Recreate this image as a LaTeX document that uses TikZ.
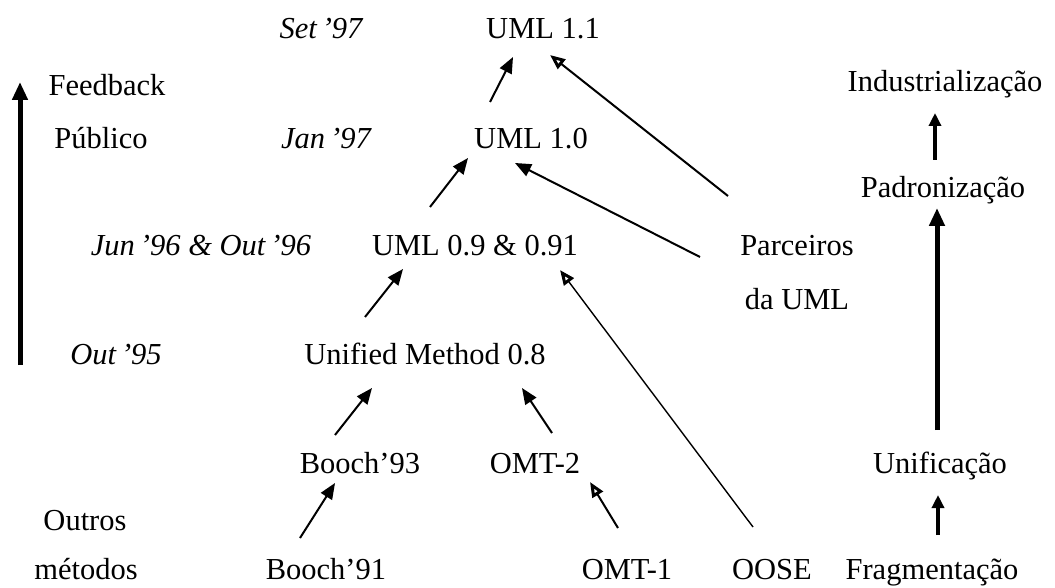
\documentclass[tikz,border=0pt]{standalone}
\usepackage{fontspec}
\setmainfont{Liberation Serif}
\usetikzlibrary{arrows.meta,calc}
\begin{document}
\begin{tikzpicture}[x=1pt,y=-1pt,
  lbl/.style={anchor=base,inner sep=0pt,font=\fontsize{30.5}{36}\selectfont},
  ilbl/.style={lbl,font=\fontsize{30.5}{36}\selectfont\itshape},
  arr/.style={line width=2pt,-{Triangle[length=16pt,width=13pt]}},
  oarr/.style={line width=2pt,-{Triangle[open,length=15pt,width=12pt,line width=3pt]}},
  thinarr/.style={line width=1.4pt,-{Triangle[open,length=15pt,width=12pt,line width=3pt]}},
  bigarr/.style={line width=5pt,-{Triangle[length=18pt,width=15pt]}},
  midarr/.style={line width=4.5pt,-{Triangle[length=13pt,width=12pt]}}]
\useasboundingbox (0,0) rectangle (1055,588);
% left column
\node[ilbl] (set97) at (321,39) {Set\,'97};
\node[ilbl] (jan97) at (326,149) {Jan\,'97};
\node[ilbl] (jun96) at (201,255) {Jun\,'96 \& Out\,'96};
\node[ilbl] (out95) at (116,364) {Out\,'95};
\node[lbl] (feed) at (107,96) {Feedback};
\node[lbl] (pub) at (101,149) {Público};
\node[lbl] (outros) at (85,530) {Outros};
\node[lbl] (metodos) at (86,579) {métodos};
% centre
\node[lbl] (u11) at (543,39) {UML 1.1};
\node[lbl] (u10) at (531,149) {UML 1.0};
\node[lbl] (u09) at (475,255) {UML 0.9 \& 0.91};
\node[lbl] (um) at (425,364) {Unified Method 0.8};
\node[lbl] (b93) at (360,473) {Booch'93};
\node[lbl] (omt2) at (535,473) {OMT-2};
\node[lbl] (b91) at (326,579) {Booch'91};
\node[lbl] (omt1) at (627,579) {OMT-1};
\node[lbl] (oose) at (772,579) {OOSE};
\node[lbl] (par) at (797,255) {Parceiros};
\node[lbl] (dauml) at (797,309) {da UML};
% right column
\node[lbl] (ind) at (945,92) {Industrialização};
\node[lbl] (padr) at (943,198) {Padronização};
\node[lbl] (unif) at (940,473) {Unificação};
\node[lbl] (frag) at (932,579) {Fragmentação};
% feedback arrow
\coordinate (fb1) at (20,365);
\coordinate (fb2) at (20,82);
\draw[bigarr] (fb1) -- (fb2);
% connectors
\draw[arr] ([shift={(-41,-47)}]u10.base) -- ([shift={(-30,18)}]u11.base);
\draw[oarr] ([shift={(-69,-59)}]par.base) -- ([shift={(7,16)}]u11.base);
\draw[arr] ([shift={(-45,-48)}]u09.base) -- ([shift={(-63,9)}]u10.base);
\draw[arr] ([shift={(-97,2)}]par.base) -- ([shift={(-16,14)}]u10.base);
\draw[arr] ([shift={(-60,-47)}]um.base) -- ([shift={(-72,14)}]u09.base);
\draw[thinarr] ([shift={(-19,-52)}]oose.base) -- ([shift={(85,15)}]u09.base);
\draw[arr] ([shift={(-25,-38)}]b93.base) -- ([shift={(-53,24)}]um.base);
\draw[arr] ([shift={(17,-40)}]omt2.base) -- ([shift={(97,24)}]um.base);
\draw[arr] ([shift={(-26,-41)}]b91.base) -- ([shift={(-25,10)}]b93.base);
\draw[oarr] ([shift={(-9,-51)}]omt1.base) -- ([shift={(55,9)}]omt2.base);
% right column arrows
\draw[midarr] ([shift={(-8,-38)}]padr.base) -- ([shift={(-10,21)}]ind.base);
\draw[bigarr] ([shift={(-3,-43)}]unif.base) -- ([shift={(-6,10)}]padr.base);
\draw[midarr] ([shift={(6,-44)}]frag.base) -- ([shift={(-2,22)}]unif.base);
\end{tikzpicture}
\end{document}
